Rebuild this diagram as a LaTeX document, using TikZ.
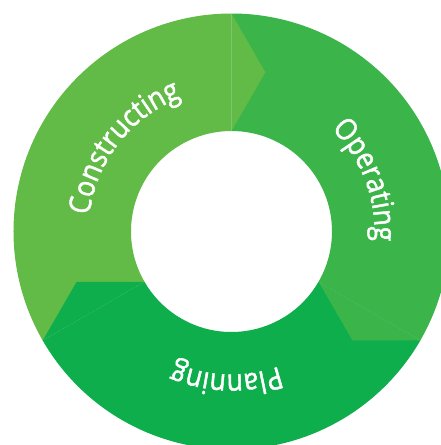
\documentclass[tikz,border=0pt]{standalone}
\usepackage{fontspec}
\usetikzlibrary{decorations.text}
\newfontfamily\ringfont[FakeStretch=0.88, FakeBold=1.5]{Open Sans}
\newcommand{\stagefont}{\ringfont\fontsize{30}{34}\selectfont}
\definecolor{constructgreen}{HTML}{62BB46}
\definecolor{operategreen}{HTML}{3BB54A}
\definecolor{plangreen}{HTML}{0DAE4B}
\tikzstyle{seam} = [white, opacity=.15, line width=.5pt]
\tikzstyle{stagetext} = [decorate, decoration={text along path, text align=center, text color=white}]

\begin{document}
\begin{tikzpicture}[x=1pt, y=1pt]
			\useasboundingbox (-231.5,-213.5) rectangle (208.5,231.5);
			\fill[white] (-231.5,-213.5) rectangle (208.5,231.5);
			
			\fill[constructgreen] (90:218) arc[start angle=90, end angle=210, radius=218] -- (210:100.5) arc[start angle=210, end angle=90, radius=100.5] -- cycle;
			\fill[operategreen] (-30:218) arc[start angle=-30, end angle=90, radius=218] -- (90:100.5) arc[start angle=90, end angle=-30, radius=100.5] -- cycle;
			\fill[plangreen] (210:218) arc[start angle=210, end angle=330, radius=218] -- (330:100.5) arc[start angle=330, end angle=210, radius=100.5] -- cycle;
			
			\fill[constructgreen] (90:218) -- (78:162.8) -- (90:100.5) -- cycle;
			\fill[operategreen] (-30:218) -- (-42:162.8) -- (-30:100.5) -- cycle;
			\fill[plangreen] (210:218) -- (198:162.8) -- (210:100.5) -- cycle;
			
			\draw[seam] (90:100.5) -- (90:218);
			\draw[seam, densely dotted] (-30:100.5) -- (-30:218);
			\draw[seam, densely dotted] (210:100.5) -- (210:218);
			
			\path[stagetext, decoration={text={|\stagefont|Constructing}}] (182:143) arc[start angle=182, end angle=102, radius=143];
			\path[stagetext, decoration={text={|\stagefont|Operating}}] (61:143) arc[start angle=61, end angle=-19, radius=143];
			\path[stagetext, decoration={text={|\stagefont|Planning}}] (-52:143) arc[start angle=-52, end angle=-132, radius=143];
			
		\end{tikzpicture}
\end{document}
